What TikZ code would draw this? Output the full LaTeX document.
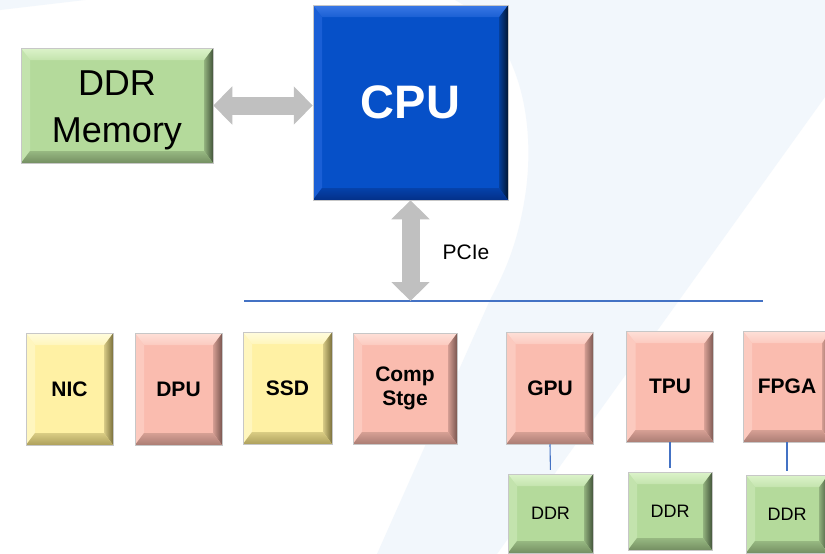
\documentclass[tikz,border=0pt]{standalone}
\usepackage{fontspec}
\setmainfont{Liberation Sans}
\usetikzlibrary{arrows.meta}
\definecolor{bgblue}{HTML}{F2F7FC}
\definecolor{arrowgray}{HTML}{C0C0C0}
\definecolor{linkblue}{HTML}{4472C4}
\definecolor{gbase}{HTML}{B4DA9B}
\definecolor{gtop}{HTML}{DCF3CA}
\definecolor{gleft}{HTML}{C3E3AD}
\definecolor{gright}{HTML}{43553A}
\definecolor{gbot}{HTML}{748F62}
\definecolor{ybase}{HTML}{FFF1A4}
\definecolor{ytop}{HTML}{FFFCDE}
\definecolor{yleft}{HTML}{FFF6BE}
\definecolor{yright}{HTML}{7A703C}
\definecolor{ybot}{HTML}{ADA05C}
\definecolor{pbase}{HTML}{FABCAF}
\definecolor{ptop}{HTML}{FEE0D8}
\definecolor{pleft}{HTML}{FCCABF}
\definecolor{pright}{HTML}{7A5650}
\definecolor{pbot}{HTML}{AB7D74}
\definecolor{bbase}{HTML}{0650C8}
\definecolor{btop}{HTML}{3A78E6}
\definecolor{bleft}{HTML}{1A5FD6}
\definecolor{bright}{HTML}{021632}
\definecolor{bbot}{HTML}{033088}
\tikzset{
  bevel/.style n args={5}{draw=black!22, line width=0.5pt, fill=#1, inner sep=0pt, align=center,
    path picture={
      \coordinate (@nw) at (path picture bounding box.north west);
      \coordinate (@ne) at (path picture bounding box.north east);
      \coordinate (@sw) at (path picture bounding box.south west);
      \coordinate (@se) at (path picture bounding box.south east);
      \fill[#3] (@nw) -- ([shift={(9pt,-12pt)}]@nw) -- ([shift={(9pt,12pt)}]@sw) -- (@sw) -- cycle;
      \shade[left color=#1!70!#4, right color=#4] (@ne) -- (@se) -- ([shift={(-9pt,12pt)}]@se) -- ([shift={(-9pt,-12pt)}]@ne) -- cycle;
      \shade[top color=#1!55!#5, bottom color=#5] (@sw) -- ([shift={(9pt,12pt)}]@sw) -- ([shift={(-9pt,12pt)}]@se) -- (@se) -- cycle;
      \shade[top color=#2, bottom color=#2!40!#1] (@nw) -- (@ne) -- ([shift={(-9pt,-12pt)}]@ne) -- ([shift={(9pt,-12pt)}]@nw) -- cycle;
    }},
  greenbox/.style={bevel={gbase}{gtop}{gleft}{gright}{gbot}},
  yellowbox/.style={bevel={ybase}{ytop}{yleft}{yright}{ybot}},
  pinkbox/.style={bevel={pbase}{ptop}{pleft}{pright}{pbot}},
  bluebox/.style={bevel={bbase}{btop}{bleft}{bright}{bbot}},
  devlabel/.style={font=\bfseries\fontsize{21}{24}\selectfont},
  ddrlabel/.style={font=\fontsize{18}{22}\selectfont},
  fatarrow/.style={draw=arrowgray, line width=18pt,
    {Triangle[length=19pt,width=37pt]}-{Triangle[length=19pt,width=37pt]}},
  bus/.style={draw=linkblue, line width=2pt},
  link/.style={draw=linkblue, line width=1.1pt, shorten >=4pt},
}
\begin{document}
\begin{tikzpicture}[x=1pt, y=-1pt]
\useasboundingbox (0,0) rectangle (825,554);
\fill[white] (0,0) rectangle (825,554);
% faint background shapes
\fill[bgblue] (0,0) -- (85,0) -- (0,10) -- cycle;
\fill[bgblue] (455,0) .. controls (520,35) and (535,120) .. (526,190)
  .. controls (519,240) and (506,270) .. (490,300) -- (377,554) -- (497,554) -- (825,97) -- (825,0) -- cycle;
% boxes
\node[greenbox, minimum width=192pt, minimum height=115pt] (mem) at (117,105.5) {};
\node[align=center, font=\fontsize{36}{47}\selectfont, inner sep=0pt] (memtext) at ([yshift=-5pt]mem.center) {DDR\\Memory};
\node[bluebox, minimum width=195pt, minimum height=195pt, text=white, font=\bfseries\fontsize{47}{56}\selectfont] (cpu) at (410.5,102.5) {CPU};
\node[yellowbox, devlabel, minimum width=87pt, minimum height=112pt] (nic) at (69.5,389) {NIC};
\node[pinkbox, devlabel, minimum width=87pt, minimum height=112pt] (dpu) at (178.5,389) {DPU};
\node[yellowbox, devlabel, minimum width=89pt, minimum height=112pt] (ssd) at (287.5,388) {SSD};
\node[pinkbox, devlabel, minimum width=104pt, minimum height=111pt] (comp) at (405,388.5) {Comp\\Stge};
\node[pinkbox, devlabel, minimum width=87pt, minimum height=112pt] (gpu) at (550,388) {GPU};
\node[pinkbox, devlabel, minimum width=87pt, minimum height=111pt] (tpu) at (670,386.5) {TPU};
\node[pinkbox, devlabel, minimum width=88pt, minimum height=111pt] (fpga) at (787,386.5) {FPGA};
\node[greenbox, ddrlabel, minimum width=85pt, minimum height=79pt] (gddr) at (550.5,513.5) {DDR};
\node[greenbox, ddrlabel, minimum width=84pt, minimum height=78pt] (tddr) at (670,511) {DDR};
\node[greenbox, ddrlabel, minimum width=82pt, minimum height=78pt] (fddr) at (787,514) {DDR};
% bus
\coordinate (busL) at (244,301);
\coordinate (busR) at (763,301);
\draw[bus] (busL) -- (busR);
% connectors
\draw[fatarrow] (mem.east) -- (mem.east -| cpu.west);
\draw[fatarrow] (cpu.south) -- (cpu.south |- busL);
\node[font=\fontsize{21}{24}\selectfont] (pcie) at (466,252) {PCIe};
\draw[link] (gpu.south) -- (gddr.north);
\draw[link] (tpu.south) -- (tddr.north);
\draw[link] (fpga.south) -- (fddr.north);
\end{tikzpicture}
\end{document}
